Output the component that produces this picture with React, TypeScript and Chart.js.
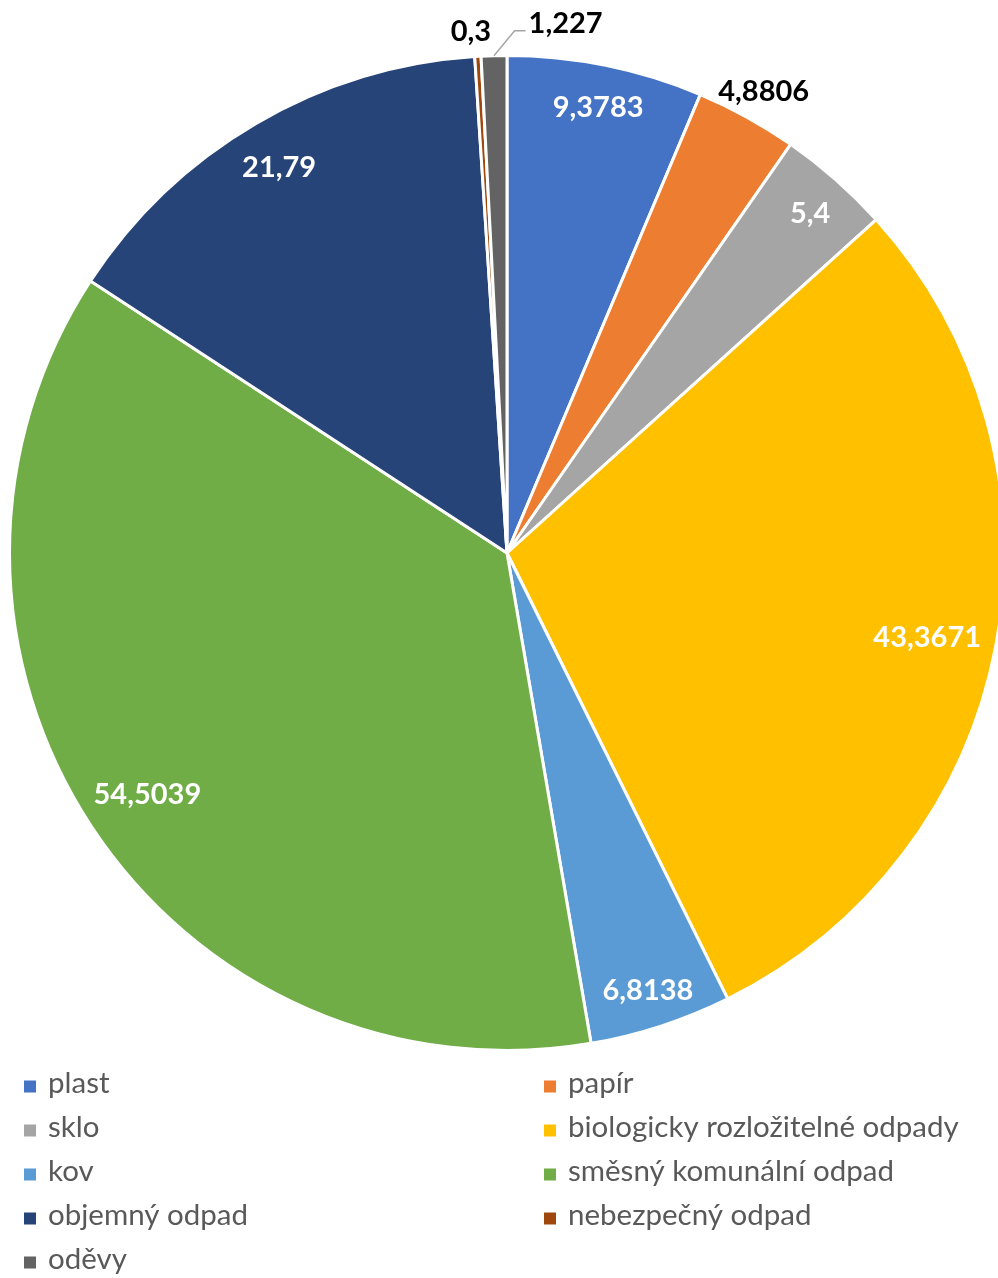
import React, { useEffect, useRef } from 'react';
import { Chart, registerables } from 'chart.js';

Chart.register(...registerables);

const categories = [
  'plast',
  'papír',
  'sklo',
  'biologicky rozložitelné odpady',
  'kov',
  'směsný komunální odpad',
  'objemný odpad',
  'nebezpečný odpad',
  'oděvy',
];
const values = [9.3783, 4.8806, 5.4, 43.3671, 6.8138, 54.5039, 21.79, 0.3, 1.227];
const valueLabels = ['9,3783', '4,8806', '5,4', '43,3671', '6,8138', '54,5039', '21,79', '0,3', '1,227'];
const colors = ['#4472C4', '#ED7D31', '#A5A5A5', '#FFC000', '#5B9BD5', '#70AD47', '#264478', '#9E480E', '#636363'];
const outsideLabels = [1, 7, 8];

const LABEL_FONT = 'bold 29px Lato';
const LEGEND_FONT = '29.5px Lato';

const sliceLabels = {
  id: 'sliceLabels',
  afterDatasetsDraw(chart: any, _args: any, opts: any) {
    const ctx = chart.ctx;
    const meta = chart.getDatasetMeta(0);
    ctx.save();
    ctx.font = LABEL_FONT;
    ctx.textAlign = 'center';
    ctx.textBaseline = 'middle';
    const h = 30;
    meta.data.forEach((arc: any, i: number) => {
      const p = arc.getProps(['x', 'y', 'startAngle', 'endAngle', 'outerRadius'], true);
      const mid = (p.startAngle + p.endAngle) / 2;
      const cos = Math.cos(mid);
      const sin = Math.sin(mid);
      const text = opts.texts[i];
      const w = ctx.measureText(text).width;
      const proj = Math.abs(cos) * w / 2 + Math.abs(sin) * h / 2;
      const outside = opts.outside.includes(i);
      const d = outside ? p.outerRadius + opts.gapOut + proj : p.outerRadius - opts.gapIn - proj;
      let cx = p.x + cos * d;
      let cy = p.y + sin * d + opts.dy;
      const off = opts.offsets[i];
      if (off) {
        cx += off[0];
        cy += off[1];
      }
      if (opts.leaders.includes(i)) {
        const sx = p.x + cos * p.outerRadius;
        const sy = p.y + sin * p.outerRadius;
        const left = cx - w / 2;
        const ly = cy + 7;
        ctx.beginPath();
        ctx.strokeStyle = '#A6A6A6';
        ctx.lineWidth = 1.5;
        ctx.moveTo(sx, sy);
        ctx.lineTo(left - 14, ly);
        ctx.lineTo(left - 3, ly);
        ctx.stroke();
      }
      ctx.fillStyle = outside ? '#000000' : '#FFFFFF';
      ctx.fillText(text, cx, cy);
    });
    ctx.restore();
  },
};

const gridLegend = {
  id: 'gridLegend',
  afterDraw(chart: any, _args: any, opts: any) {
    const ctx = chart.ctx;
    const labels = chart.data.labels;
    const bg = chart.data.datasets[0].backgroundColor;
    ctx.save();
    ctx.font = LEGEND_FONT;
    ctx.textAlign = 'left';
    ctx.textBaseline = 'alphabetic';
    labels.forEach((lab: string, i: number) => {
      const col = i % 2;
      const row = Math.floor(i / 2);
      const x = opts.colX[col];
      const top = opts.top + row * opts.step;
      ctx.fillStyle = bg[i];
      ctx.fillRect(x, top, opts.box, opts.box);
      ctx.fillStyle = '#595959';
      ctx.fillText(lab, x + opts.textGap, top + opts.box + 0.5);
    });
    ctx.restore();
  },
};

export default function App() {
  const ref = useRef<HTMLCanvasElement | null>(null);
  useEffect(() => {
    if (!ref.current) return;
    const chart = new Chart(ref.current, {
      type: 'pie',
      data: {
        labels: categories,
        datasets: [
          {
            data: values,
            backgroundColor: colors,
            borderColor: '#FFFFFF',
            borderWidth: 3,
          },
        ],
      },
      options: {
        responsive: true,
        maintainAspectRatio: false,
        animation: false,
        layout: { padding: { left: 8, right: 8, top: 54, bottom: 226 } },
        plugins: {
          legend: { display: false },
          tooltip: { enabled: false },
          sliceLabels: {
            texts: valueLabels,
            outside: outsideLabels,
            gapIn: 14,
            gapOut: 0,
            dy: 5,
            offsets: { 7: [-6, -14], 8: [72, -21] },
            leaders: [8],
          },
          gridLegend: {
            colX: [24, 544],
            top: 1080.5,
            step: 44,
            box: 12,
            textGap: 24,
          },
        } as any,
      },
      plugins: [sliceLabels, gridLegend],
    });
    if ((document as any).fonts && (document as any).fonts.ready) {
      (document as any).fonts.ready.then(() => chart.update());
    }
    return () => chart.destroy();
  }, []);
  return (
    <div style={{ position: 'absolute', left: 0, top: 0, width: 998, height: 1278, overflow: 'hidden', background: '#fff' }}>
      <div style={{ position: 'relative', width: 1014, height: 1278 }}>
        <canvas ref={ref} />
      </div>
    </div>
  );
}
